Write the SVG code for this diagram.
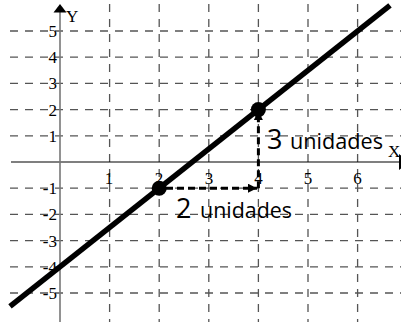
<svg xmlns="http://www.w3.org/2000/svg" width="401" height="322" viewBox="0 0 401 322">
<style>
.grid{stroke:#555;stroke-width:1.3;stroke-dasharray:8 7;fill:none}
.tick{font-family:"Liberation Serif","Times New Roman",serif;font-size:17px;fill:#000}
.ytick{text-anchor:end}
.xtick{text-anchor:middle}
.lbl{font-family:"Open Sans","Noto Sans",sans-serif;fill:#000}
.big{font-size:27px}
.small{font-size:22px}
.step{stroke:#000;stroke-width:3;stroke-dasharray:7 4;fill:none}
</style>
<defs>
<marker id="ah" viewBox="0 0 10 10" refX="10" refY="5" markerWidth="3.5" markerHeight="3" orient="auto" markerUnits="strokeWidth">
<path d="M0,0 L10,5 L0,10 z" fill="#000"/>
</marker>
</defs>
<rect width="401" height="322" fill="#fff"/>
<g id="grid" class="grid">
<line x1="10" y1="31" x2="401" y2="31"/>
<line x1="10" y1="57.2" x2="401" y2="57.2"/>
<line x1="10" y1="83.4" x2="401" y2="83.4"/>
<line x1="10" y1="109.6" x2="401" y2="109.6"/>
<line x1="10" y1="135.8" x2="401" y2="135.8"/>
<line x1="10" y1="188.2" x2="401" y2="188.2"/>
<line x1="10" y1="214.4" x2="401" y2="214.4"/>
<line x1="10" y1="240.6" x2="401" y2="240.6"/>
<line x1="10" y1="266.8" x2="401" y2="266.8"/>
<line x1="10" y1="293" x2="401" y2="293"/>
<line x1="109.6" y1="4" x2="109.6" y2="322"/>
<line x1="159.2" y1="4" x2="159.2" y2="322"/>
<line x1="208.8" y1="4" x2="208.8" y2="322"/>
<line x1="258.4" y1="4" x2="258.4" y2="322"/>
<line x1="308" y1="4" x2="308" y2="322"/>
<line x1="357.6" y1="4" x2="357.6" y2="322"/>
</g>
<g id="axes">
<line x1="11" y1="162" x2="400" y2="162" stroke="#000" stroke-width="1.2"/>
<polygon points="399,154 410,162 399,170" fill="#000"/>
<line x1="60" y1="10" x2="60" y2="322" stroke="#777" stroke-width="1.6"/>
<polygon points="60,4 53.5,12.5 66.5,12.5" fill="#000"/>
<text x="66" y="22" class="tick">Y</text>
<text x="388" y="157" class="tick">X</text>
</g>
<g id="tick-labels" class="tick">
<text class="ytick" x="57" y="37">5</text>
<text class="ytick" x="57" y="63.2">4</text>
<text class="ytick" x="57" y="89.4">3</text>
<text class="ytick" x="57" y="115.6">2</text>
<text class="ytick" x="57" y="141.8">1</text>
<text class="ytick" x="57" y="194.2">-1</text>
<text class="ytick" x="57" y="220.4">-2</text>
<text class="ytick" x="57" y="246.6">-3</text>
<text class="ytick" x="57" y="272.8">-4</text>
<text class="ytick" x="57" y="299">-5</text>
<text class="xtick" x="109" y="184">1</text>
<text class="xtick" x="159" y="184">2</text>
<text class="xtick" x="209" y="184">3</text>
<text class="xtick" x="258.4" y="184">4</text>
<text class="xtick" x="308" y="184">5</text>
<text class="xtick" x="357.6" y="184">6</text>
</g>
<g id="line">
<line x1="10" y1="306.4" x2="390" y2="5.3" stroke="#000" stroke-width="5.5"/>
</g>
<g id="connectors">
<line class="step" x1="166" y1="188.2" x2="257" y2="188.2" marker-end="url(#ah)"/>
<line class="step" x1="258.4" y1="188.2" x2="258.4" y2="111" marker-end="url(#ah)"/>
</g>
<g id="point-a"><circle cx="159.2" cy="188.2" r="7.5" fill="#000"/></g>
<g id="point-b"><circle cx="258.4" cy="109.6" r="7.5" fill="#000"/></g>
<g id="label-3">
<text class="lbl big" x="267" y="149">3</text>
<text class="lbl small" x="290" y="149" textLength="93" lengthAdjust="spacingAndGlyphs">unidades</text>
</g>
<g id="label-2">
<text class="lbl big" x="176" y="218">2</text>
<text class="lbl small" x="200" y="218" textLength="92" lengthAdjust="spacingAndGlyphs">unidades</text>
</g>
</svg>
